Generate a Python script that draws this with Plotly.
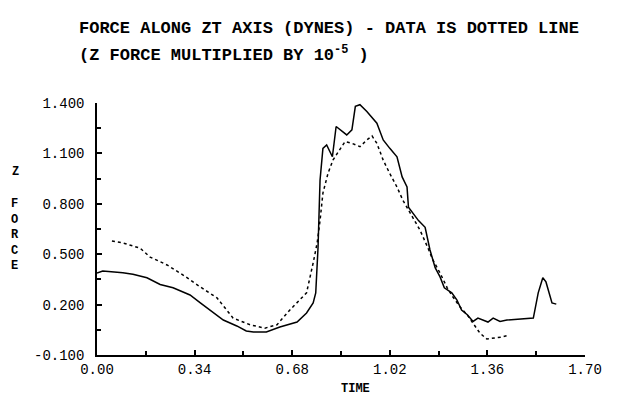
import plotly.graph_objects as go

# Model (solid line)
model_t = [0.0, 0.02, 0.09, 0.125, 0.174, 0.22, 0.265, 0.324, 0.36, 0.394, 0.44, 0.487, 0.52,
           0.545, 0.59, 0.637, 0.697, 0.73, 0.753, 0.762, 0.77, 0.777, 0.787, 0.80, 0.81, 0.82,
           0.833, 0.853, 0.87, 0.888, 0.90, 0.916, 0.94, 0.975, 0.997, 1.02, 1.045, 1.063, 1.08,
           1.085, 1.10, 1.12, 1.143, 1.16, 1.178, 1.195, 1.21, 1.236, 1.254, 1.27, 1.29, 1.31,
           1.327, 1.345, 1.362, 1.38, 1.404, 1.428, 1.463, 1.498, 1.52, 1.537, 1.553, 1.564,
           1.585, 1.60]
model_f = [0.388, 0.40, 0.39, 0.38, 0.36, 0.32, 0.30, 0.257, 0.21, 0.168, 0.108, 0.073, 0.043,
           0.037, 0.037, 0.067, 0.096, 0.15, 0.21, 0.27, 0.54, 0.94, 1.13, 1.15, 1.11, 1.08,
           1.26, 1.23, 1.21, 1.24, 1.38, 1.39, 1.35, 1.28, 1.18, 1.13, 1.08, 0.96, 0.90,
           0.78, 0.745, 0.70, 0.66, 0.525, 0.42, 0.365, 0.30, 0.27, 0.227, 0.168, 0.14, 0.10,
           0.12, 0.108, 0.096, 0.12, 0.10, 0.108, 0.114, 0.12, 0.12, 0.27, 0.36, 0.335,
           0.21, 0.203]

# Data (dotted line)
data_t = [0.052, 0.09, 0.15, 0.185, 0.244, 0.30, 0.36, 0.418, 0.474, 0.533, 0.585, 0.627,
          0.672, 0.73, 0.753, 0.767, 0.777, 0.787, 0.805, 0.822, 0.84, 0.864, 0.888, 0.916,
          0.94, 0.958, 0.975, 0.997, 1.02, 1.045, 1.066, 1.09, 1.125, 1.153, 1.17, 1.195,
          1.22, 1.24, 1.265, 1.29, 1.31, 1.334, 1.358, 1.38, 1.41, 1.435]
data_f = [0.578, 0.567, 0.536, 0.483, 0.436, 0.376, 0.305, 0.24, 0.12, 0.08, 0.06, 0.08,
          0.168, 0.27, 0.448, 0.567, 0.70, 0.864, 0.983, 1.06, 1.108, 1.17, 1.16, 1.14,
          1.18, 1.204, 1.16, 1.06, 0.98, 0.90, 0.82, 0.745, 0.644, 0.537, 0.466, 0.388,
          0.30, 0.245, 0.186, 0.138, 0.09, 0.03, -0.005, 0.0, 0.007, 0.019]

x_ticks = [0.0, 0.34, 0.68, 1.02, 1.36, 1.70]
x_labels = ["0.00", "0.34", "0.68", "1.02", "1.36", "1.70"]
y_ticks = [-0.1, 0.2, 0.5, 0.8, 1.1, 1.4]
y_labels = ["-0.100", "0.200", "0.500", "0.800", "1.100", "1.400"]

FONT = "Liberation Mono"

fig = go.Figure()
fig.add_trace(go.Scatter(x=model_t, y=model_f, mode="lines",
                         line=dict(color="black", width=1.5), showlegend=False))
fig.add_trace(go.Scatter(x=data_t, y=data_f, mode="lines",
                         line=dict(color="black", width=1.5, dash="dot"), showlegend=False))

axis_common = dict(showgrid=False, zeroline=False, showline=True, linecolor="black",
                   linewidth=1.5, ticks="inside", ticklen=5, tickcolor="black", tickwidth=1.5,
                   tickfont=dict(family=FONT, size=14, color="black"))

fig.update_xaxes(range=[0, 1.70], tickvals=x_ticks, ticktext=x_labels, ticklabelstandoff=0,
                 minor=dict(ticks="inside", ticklen=4, tickcolor="black", dtick=0.17, tick0=0),
                 **axis_common)
fig.update_yaxes(range=[-0.1, 1.4], tickvals=y_ticks, ticktext=y_labels, ticklabelstandoff=8,
                 minor=dict(ticks="inside", ticklen=4, tickcolor="black", dtick=0.15, tick0=-0.1),
                 **axis_common)

fig.update_layout(
    width=621, height=395,
    margin=dict(l=97, r=36, t=103, b=40),
    paper_bgcolor="white", plot_bgcolor="white",
    font=dict(family=FONT, color="black"),
    annotations=[
        dict(text="<b>FORCE ALONG ZT AXIS (DYNES) - DATA IS DOTTED LINE</b>",
             xref="paper", yref="paper", x=-0.04, y=1.0, xanchor="left", yanchor="middle",
             yshift=103 - 28, showarrow=False, font=dict(family=FONT, size=17)),
        dict(text="<b>(Z FORCE MULTIPLIED BY 10<sup>-5</sup> )</b>",
             xref="paper", yref="paper", x=-0.04, y=1.0, xanchor="left", yanchor="middle",
             yshift=103 - 54, showarrow=False, font=dict(family=FONT, size=17)),
        dict(text="<b>Z</b>", xref="paper", yref="paper", x=0, y=1.0, xshift=-82,
             yshift=103 - 172, xanchor="center", yanchor="middle", showarrow=False,
             font=dict(family=FONT, size=12)),
        dict(text="<b>F<br>O<br>R<br>C<br>E</b>", xref="paper", yref="paper", x=0, y=1.0,
             xshift=-82, yshift=103 - 235, xanchor="center", yanchor="middle", showarrow=False,
             font=dict(family=FONT, size=12)),
        dict(text="<b>TIME</b>", xref="paper", yref="paper", x=0, y=0, xshift=355 - 97,
             yshift=-(389 - 355), xanchor="center", yanchor="middle", showarrow=False,
             font=dict(family=FONT, size=12)),
    ],
)

fig.write_html("out.html")
